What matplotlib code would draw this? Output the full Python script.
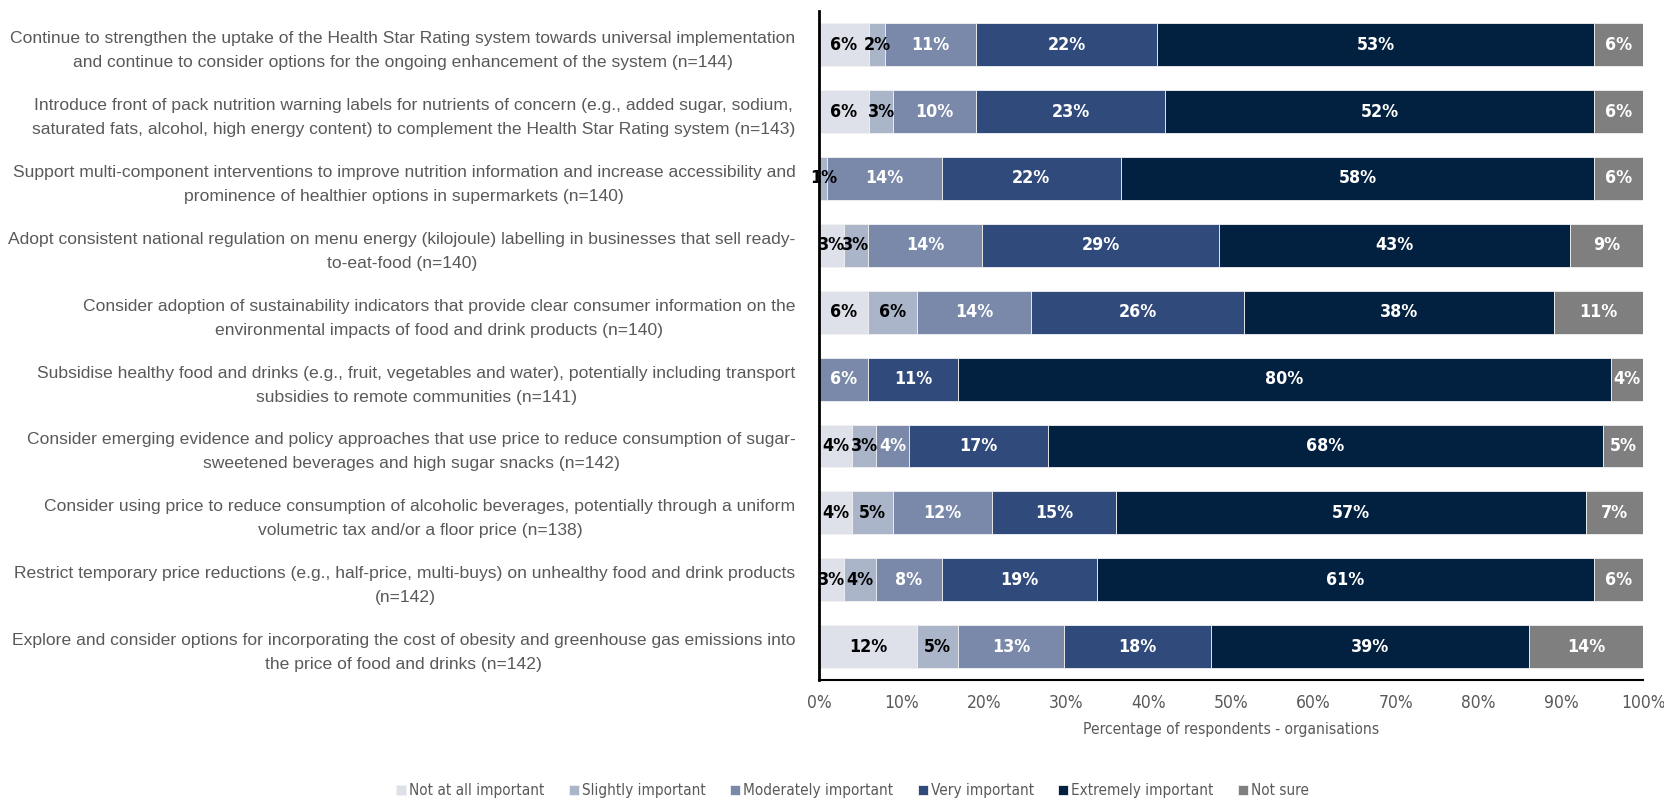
import matplotlib.pyplot as plt
import numpy as np
from matplotlib import font_manager

# Survey responses, organisations only (percent of respondents per option)
options = [
    "Continue to strengthen the uptake of the Health Star Rating system towards universal implementation\nand continue to consider options for the ongoing enhancement of the system (n=144)",
    "Introduce front of pack nutrition warning labels for nutrients of concern (e.g., added sugar, sodium,\nsaturated fats, alcohol, high energy content) to complement the Health Star Rating system (n=143)",
    "Support multi-component interventions to improve nutrition information and increase accessibility and\nprominence of healthier options in supermarkets (n=140)",
    "Adopt consistent national regulation on menu energy (kilojoule) labelling in businesses that sell ready-\nto-eat-food (n=140)",
    "Consider adoption of sustainability indicators that provide clear consumer information on the\nenvironmental impacts of food and drink products (n=140)",
    "Subsidise healthy food and drinks (e.g., fruit, vegetables and water), potentially including transport\nsubsidies to remote communities (n=141)",
    "Consider emerging evidence and policy approaches that use price to reduce consumption of sugar-\nsweetened beverages and high sugar snacks (n=142)",
    "Consider using price to reduce consumption of alcoholic beverages, potentially through a uniform\nvolumetric tax and/or a floor price (n=138)",
    "Restrict temporary price reductions (e.g., half-price, multi-buys) on unhealthy food and drink products\n(n=142)",
    "Explore and consider options for incorporating the cost of obesity and greenhouse gas emissions into\nthe price of food and drinks (n=142)",
]

responses = ["Not at all important", "Slightly important", "Moderately important",
             "Very important", "Extremely important", "Not sure"]

not_at_all = [6, 6, 0, 3, 6, 0, 4, 4, 3, 12]
slightly = [2, 3, 1, 3, 6, 0, 3, 5, 4, 5]
moderately = [11, 10, 14, 14, 14, 6, 4, 12, 8, 13]
very = [22, 23, 22, 29, 26, 11, 17, 15, 19, 18]
extremely = [53, 52, 58, 43, 38, 80, 68, 57, 61, 39]
not_sure = [6, 6, 6, 9, 11, 4, 5, 7, 6, 14]

series = [not_at_all, slightly, moderately, very, extremely, not_sure]
colors = ["#dee1ea", "#aab5ca", "#7a89aa", "#2f4a7b", "#02203f", "#7f7f7f"]
label_colors = ["black", "black", "white", "white", "white", "white"]

# condensed DejaVu stands in for a narrow face
narrow = dict(family=["DejaVu Sans"], fontstretch="condensed")
regular = ["Liberation Sans", "DejaVu Sans"]
text_grey = "#595959"

# rounded percentages can add up to 101, so scale each row to fill 100%
row_total = np.sum(series, axis=0)

fig = plt.figure(figsize=(16.65, 8.02), dpi=100)
ax = fig.add_axes([0.492, 0.152, 0.495, 0.834])

y = np.arange(len(options))
left = np.zeros(len(options))
for name, vals, col, lcol in zip(responses, series, colors, label_colors):
    vals = np.array(vals, dtype=float)
    widths = vals * 100 / row_total
    ax.barh(y, widths, left=left, height=0.64, color=col, edgecolor="#f2f2f2",
            linewidth=0.6, label=name)
    for yi, (l, w, v) in enumerate(zip(left, widths, vals)):
        if v > 0:
            ax.text(l + w / 2, yi, f"{int(v)}%", ha="center", va="center",
                    color=lcol, fontsize=12.8, fontweight="bold", **narrow)
    left += widths

ax.set_xlim(0, 100)
ax.set_ylim(len(options) - 0.5, -0.5)
ax.set_xticks(np.arange(0, 101, 10))
ax.set_xticklabels([f"{t}%" for t in range(0, 101, 10)], fontsize=12.5,
                   color=text_grey, **narrow)
ax.set_yticks(y)
ax.set_yticklabels(options, family=regular, fontsize=12.6, color=text_grey,
                   multialignment="center", linespacing=1.75)
ax.tick_params(axis="both", length=0)
ax.tick_params(axis="x", pad=10)
ax.tick_params(axis="y", pad=17)
ax.set_xlabel("Percentage of respondents - organisations", fontsize=11.2,
              color=text_grey, labelpad=7, **narrow)

for side in ["top", "right"]:
    ax.spines[side].set_visible(False)
ax.spines["left"].set_linewidth(2)
ax.spines["bottom"].set_linewidth(1.5)

leg = fig.legend(loc="center", bbox_to_anchor=(0.512, 0.014), ncol=6, frameon=False,
                 handlelength=0.65, handleheight=0.65, handletextpad=0.2,
                 columnspacing=1.6,
                 prop=font_manager.FontProperties(family="DejaVu Sans",
                                                  stretch="condensed", size=11))
for t in leg.get_texts():
    t.set_color(text_grey)

fig.savefig("out.png", dpi=100)
